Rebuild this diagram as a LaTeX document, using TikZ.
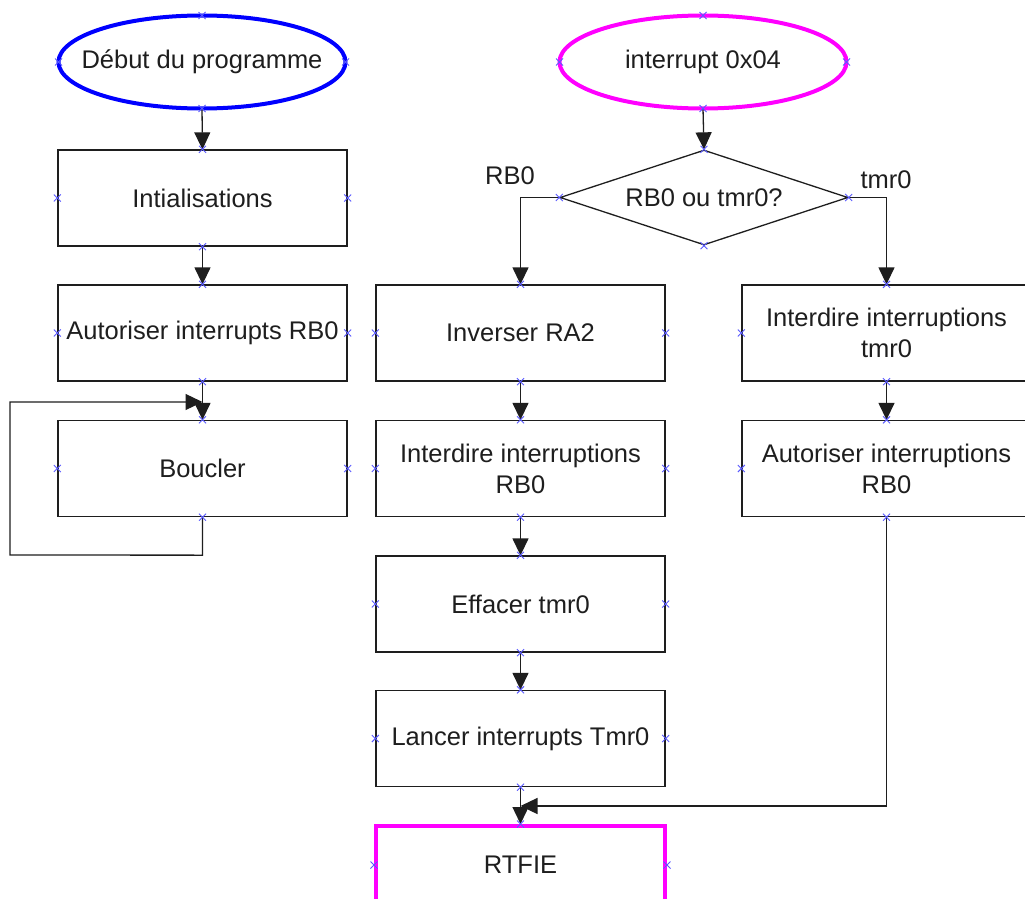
\documentclass[tikz,border=0pt]{standalone}
\usepackage{fontspec}
\setmainfont{Liberation Sans}
\usetikzlibrary{shapes.geometric,arrows.meta}
\definecolor{linec}{RGB}{30,30,30}
\definecolor{textc}{RGB}{30,30,30}
\definecolor{markc}{RGB}{90,90,255}
\definecolor{startblue}{RGB}{0,0,255}
\definecolor{startmag}{RGB}{255,0,255}
\newcommand\mkx[1]{\draw[xm] (#1) +(-3.5,-3.5) -- +(3.5,3.5) +(-3.5,3.5) -- +(3.5,-3.5);}
\begin{document}
\begin{tikzpicture}[x=1pt,y=-1pt,
  txt/.style={font=\fontsize{25.5}{31}\selectfont, text=textc},
  stepbox/.style={txt, draw=linec, line width=1.3pt, minimum width=289pt, minimum height=96pt, inner sep=0pt, align=center},
  startnode/.style={ellipse, line width=4pt, minimum width=287pt, minimum height=93pt, inner sep=0pt, outer sep=0pt},
  decision/.style={txt, diamond, draw=linec, line width=1.3pt, minimum width=288pt, minimum height=95pt, aspect=3, inner sep=0pt},
  endbox/.style={txt, draw=startmag, line width=4pt, minimum width=289pt, minimum height=78pt, inner sep=0pt},
  arr/.style={line width=1.3pt, draw=linec, -{Triangle[length=17pt,width=16pt]}},
  xm/.style={draw=markc, line width=0.9pt},
  lbl/.style={txt}
]
\useasboundingbox (0,0) rectangle (1025,899);
\clip (0,0) rectangle (1025,899);
\fill[white] (0,0) rectangle (1025,899);

% left column
\node[startnode, draw=startblue] (deb) at (202,62) {};
\node[txt] (debt) at (deb.center) {Début du programme};
\node[stepbox] (ini) at (202.5,198) {Intialisations};
\node[stepbox] (aut) at (202.5,333) {Autoriser interrupts RB0};
\node[stepbox] (bou) at (202.5,468.5) {Boucler};

% interrupt column
\node[startnode, draw=startmag] (irq) at (703,62) {};
\node[txt] (irqt) at (irq.center) {interrupt 0x04};
\node[decision] (dia) at (704,197.5) {RB0 ou tmr0?};
\node[lbl] (lrb) at (510,176) {RB0};
\node[lbl] (ltm) at (886,180) {tmr0};

\node[stepbox] (inv) at (520.5,333) {Inverser RA2};
\node[stepbox] (irb) at (520.5,468.5) {Interdire interruptions\\RB0};
\node[stepbox] (eff) at (520.5,604) {Effacer tmr0};
\node[stepbox] (lan) at (520.5,738.5) {Lancer interrupts Tmr0};
\node[endbox] (rtf) at (520.5,865) {RTFIE};

\node[stepbox] (itm) at (886.5,333) {Interdire interruptions\\tmr0};
\node[stepbox] (arb) at (886.5,468.5) {Autoriser interruptions\\RB0};

% connectors
\draw[arr] (deb.south) -- (ini.north);
\draw[arr] (ini.south) -- (aut.north);
\draw[arr] (aut.south) -- (bou.north);
\coordinate (lp) at (202.5,402);
\draw[arr] (bou.south) -- ++(0,38) -- (10,555) -- (10,402) -- (lp);

\draw[arr] (irq.south) -- (dia.north);
\draw[arr] (dia.west) -| (inv.north);
\draw[arr] (dia.east) -| (itm.north);
\draw[arr] (inv.south) -- (irb.north);
\draw[arr] (irb.south) -- (eff.north);
\draw[arr] (eff.south) -- (lan.north);
\draw[arr] (lan.south) -- (rtf.north);
\draw[arr] (itm.south) -- (arb.north);
\coordinate (mg) at (520.5,806);
\draw[arr] (arb.south) |- (mg);

% anchor markers
\foreach \n in {deb,ini,aut,bou,irq,dia,inv,irb,eff,lan,itm,arb}{
  \mkx{\n.north}\mkx{\n.south}\mkx{\n.east}\mkx{\n.west}
}
\mkx{rtf.north}\mkx{rtf.east}\mkx{rtf.west}
\end{tikzpicture}
\end{document}
